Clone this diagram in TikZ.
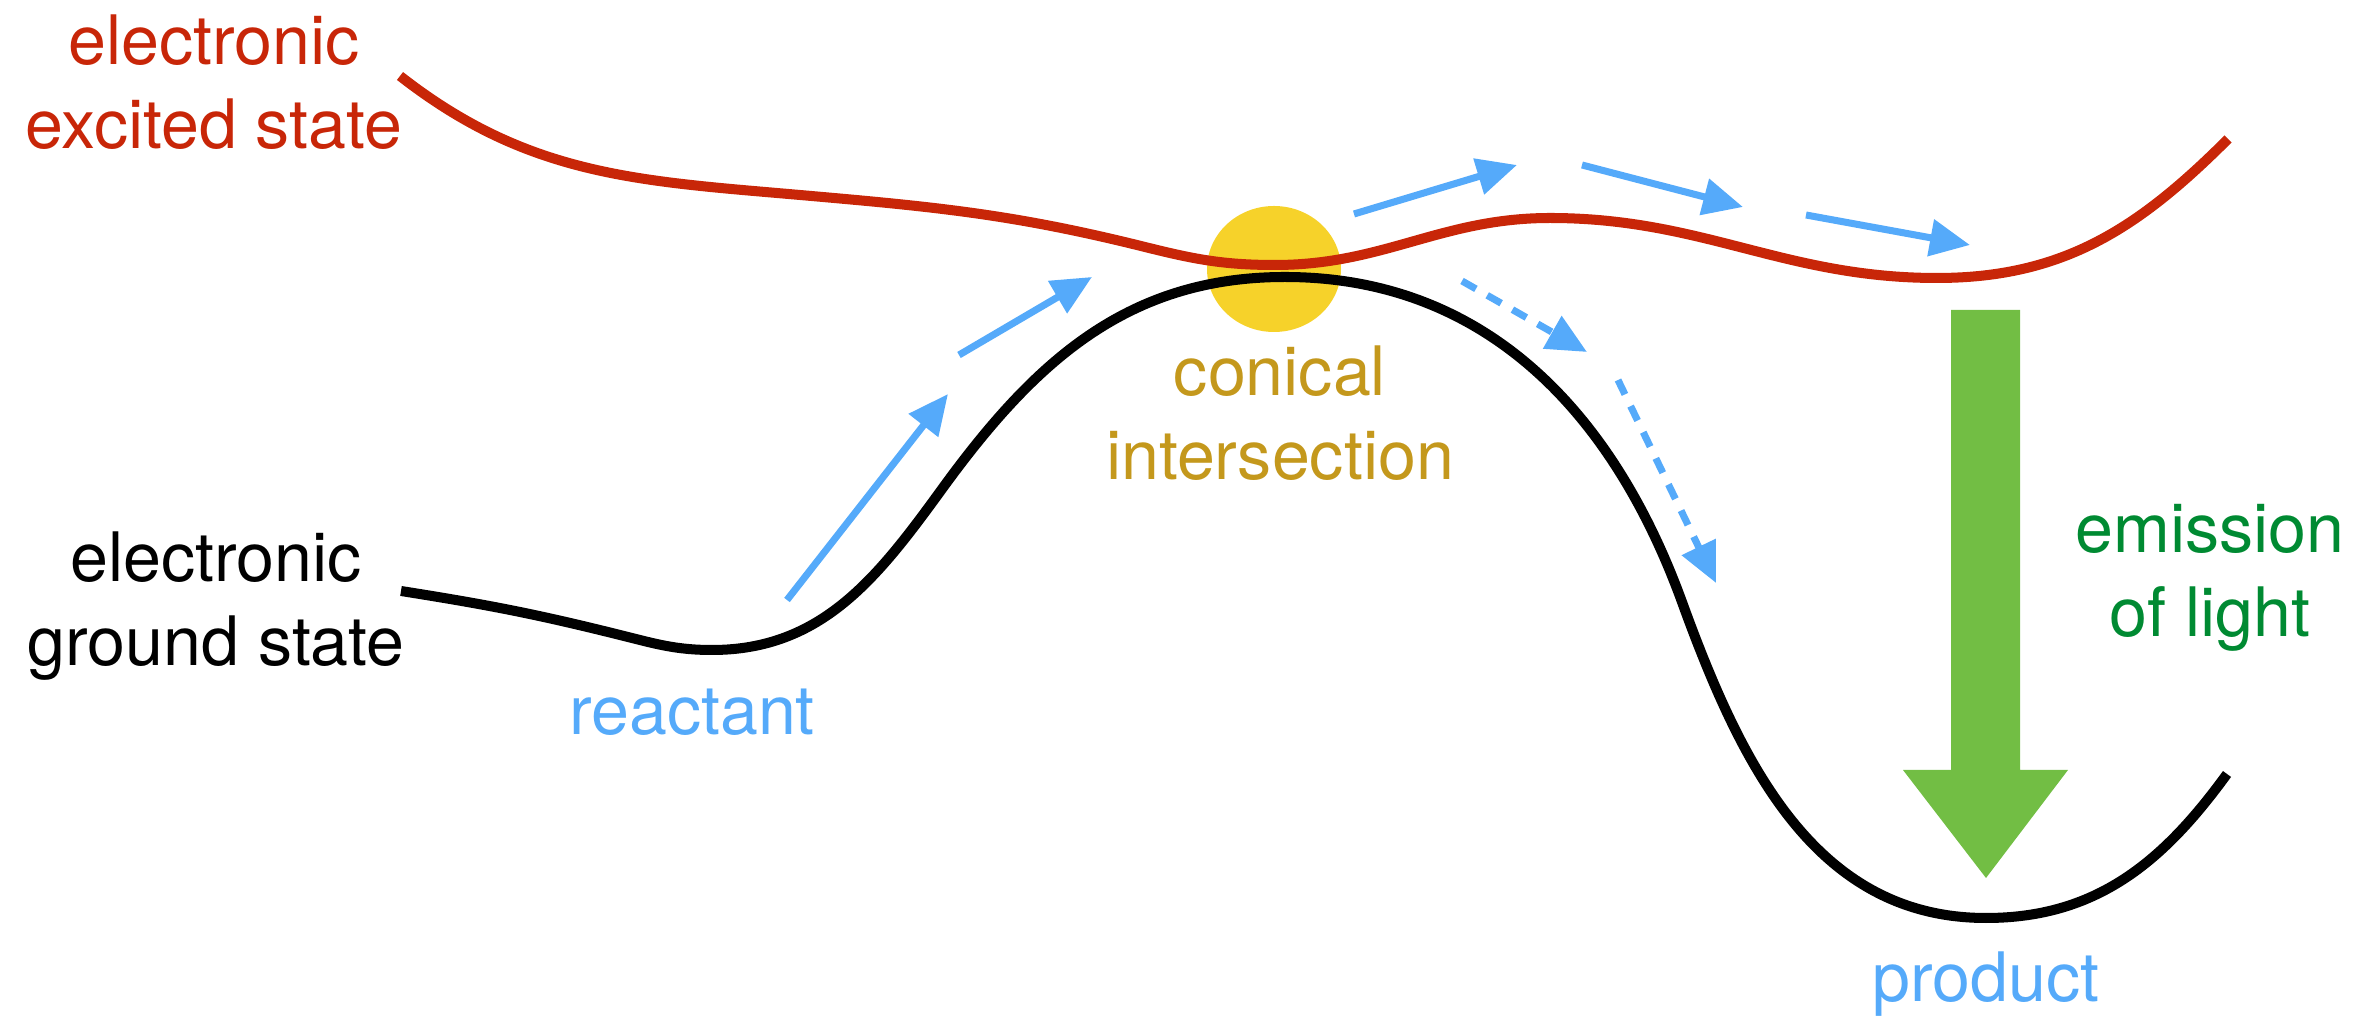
\documentclass[tikz,border=0pt]{standalone}
\usepackage{fontspec}
\setmainfont{TeX Gyre Heros}
\usetikzlibrary{arrows.meta}
\definecolor{excitedred}{RGB}{200,38,8}
\definecolor{pathblue}{RGB}{85,170,250}
\definecolor{ciyellow}{RGB}{246,210,42}
\definecolor{cigold}{RGB}{196,152,28}
\definecolor{lightgreen}{RGB}{114,190,68}
\definecolor{darkgreen}{RGB}{0,138,50}

\begin{document}
\begin{tikzpicture}[
    txt/.style={inner sep=0pt, anchor=base, align=center, font=\fontsize{19.4}{23.9}\selectfont},
    surface/.style={line width=2.85pt, line join=round},
    flow/.style={pathblue, line width=2pt, -{Triangle[length=0.4cm, width=0.36cm]}},
    hop/.style={flow, dash pattern=on 0.16cm off 0.13cm}]
  \useasboundingbox (0,0) rectangle (23.8,10.19);

  % conical intersection spot
  \fill[ciyellow] (12.74,7.50) ellipse [x radius=0.67, y radius=0.63];

  % excited state
  \draw[surface, excitedred] (4.00,9.43) to[out=-38, in=175] (8.00,8.24)
    to[out=-5, in=166] (11.45,7.72) to[out=-14, in=180] (12.75,7.54)
    to[out=0, in=180] (15.50,8.01) to[out=0, in=180] (19.37,7.41)
    to[out=0, in=225] (22.28,8.80);

  % ground state
  \draw[surface, black] (4.01,4.28) to[out=-9, in=166] (6.20,3.84)
    to[out=-14, in=180] (7.12,3.69) to[out=0, in=234] (9.42,5.30)
    to[out=54, in=180] (12.85,7.42) to[out=0, in=110] (16.82,4.17)
    to[out=-70, in=180] (19.86,1.01) to[out=0, in=234] (22.27,2.45);

  % reaction path
  \draw[flow] (7.87,4.19) -- (9.48,6.25);
  \draw[flow] (9.59,6.64) -- (10.92,7.42);
  \draw[flow] (13.54,8.05) -- (15.17,8.54);
  \draw[flow] (15.82,8.54) -- (17.43,8.12);
  \draw[flow] (18.06,8.04) -- (19.70,7.74);
  \draw[hop] (14.62,7.38) -- (15.87,6.67);
  \draw[hop] (16.18,6.39) -- (17.16,4.36);

  % emission
  \fill[lightgreen] (19.51,7.09) -- (20.20,7.09) -- (20.20,2.49) -- (20.68,2.49)
    -- (19.86,1.41) -- (19.03,2.49) -- (19.51,2.49) -- cycle;

  % labels (base = last line)
  \node[txt, excitedred] (excited) at (2.14,8.70) {electronic\\excited state};
  \node[txt, black] (ground) at (2.16,3.53) {electronic\\ground state};
  \node[txt, pathblue] (reactant) at (6.92,2.84) {reactant};
  \node[txt, cigold] (conical) at (12.80,5.39) {conical\\intersection};
  \node[txt, darkgreen] (emission) at (22.10,3.82) {emission\\of light};
  \node[txt, pathblue] (product) at (19.86,0.17) {product};
\end{tikzpicture}
\end{document}
